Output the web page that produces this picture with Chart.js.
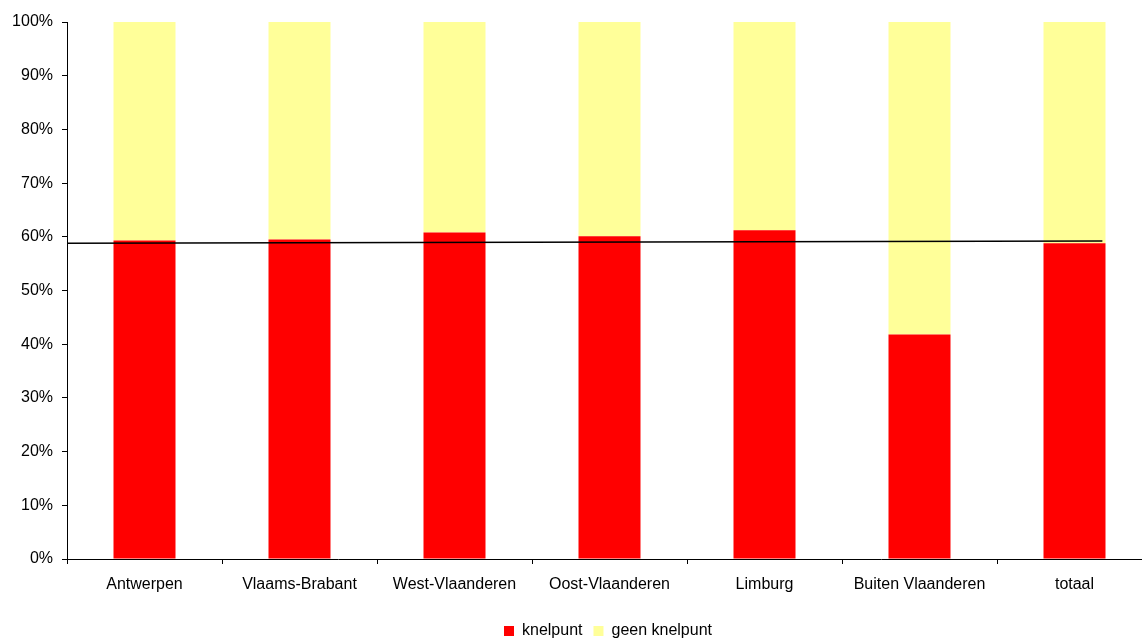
<!DOCTYPE html>
<html>
<head>
<meta charset="utf-8">
<script src="https://cdn.jsdelivr.net/npm/chart.js@4"></script>
<style>
  html, body { margin: 0; padding: 0; background: #fff; overflow: hidden; }
  #wrap { position: relative; width: 1152px; height: 638px; }
</style>
</head>
<body>
<div id="wrap"><canvas id="c"></canvas></div>
<script>
const categories = ["Antwerpen", "Vlaams-Brabant", "West-Vlaanderen", "Oost-Vlaanderen", "Limburg", "Buiten Vlaanderen", "totaal"];
const knelpunt = [59.3, 59.5, 60.8, 60.1, 61.2, 41.8, 58.8];
const geenKnelpunt = [40.7, 40.5, 39.2, 39.9, 38.8, 58.2, 41.2];
const yTicks = [0, 10, 20, 30, 40, 50, 60, 70, 80, 90, 100];
// reference line: start at left of first category, end at right of last bar (category units)
const lineX = [-0.5, 6.18];
const lineY = [58.8, 59.2];

const FONT = '"Liberation Sans", Arial, sans-serif';
Chart.defaults.font.family = FONT;
Chart.defaults.font.size = 16;
Chart.defaults.color = '#000';

const legendShift = {
  id: 'legendShift',
  afterLayout(chart) {
    const lg = chart.legend;
    if (lg) { lg.left += 32; lg.right += 32; }
  }
};

new Chart(document.getElementById('c'), {
  data: {
    labels: categories,
    datasets: [
      { type: 'bar', label: 'knelpunt', data: knelpunt, backgroundColor: '#FF0000', order: 2,
        grouped: false, barPercentage: 0.4, categoryPercentage: 1 },
      { type: 'bar', label: 'geen knelpunt', data: geenKnelpunt, backgroundColor: '#FFFF99', order: 2,
        grouped: false, barPercentage: 0.4, categoryPercentage: 1 },
      { type: 'line', label: 'lijn', xAxisID: 'x2', order: 0,
        data: lineX.map((x, i) => ({ x: x, y: lineY[i] })),
        borderColor: '#000', borderWidth: 1.5, pointRadius: 0, fill: false, tension: 0 }
    ]
  },
  plugins: [legendShift],
  options: {
    responsive: true,
    maintainAspectRatio: false,
    animation: false,
    layout: { padding: { top: 22, left: 0, right: 0, bottom: -11 } },
    plugins: {
      tooltip: { enabled: false },
      legend: {
        position: 'bottom',
        labels: {
          boxWidth: 10, boxHeight: 10, padding: 11,
          font: { size: 16 },
          filter: (item) => item.datasetIndex < 2
        }
      }
    },
    scales: {
      x: {
        type: 'category',
        stacked: true,
        offset: true,
        grid: { offset: true, drawOnChartArea: false, drawTicks: true, tickLength: 5, color: '#000', lineWidth: 1 },
        border: { color: '#000', width: 1 },
        ticks: { padding: 11, maxRotation: 0, autoSkip: false, font: { size: 16 } },
        afterFit: (s) => { s.height = 53; }
      },
      x2: {
        type: 'linear', display: false, min: -0.5, max: 6.5
      },
      y: {
        stacked: true,
        min: 0, max: 100,
        afterBuildTicks: (s) => { s.ticks = yTicks.map(v => ({ value: v })); },
        grid: { drawOnChartArea: false, drawTicks: true, tickLength: 5, color: '#000', lineWidth: 1 },
        border: { color: '#000', width: 1 },
        ticks: { padding: 9, font: { size: 16 }, callback: (v) => v + '%' },
        afterFit: (s) => { s.width = 67; }
      }
    }
  }
});
</script>
</body>
</html>
